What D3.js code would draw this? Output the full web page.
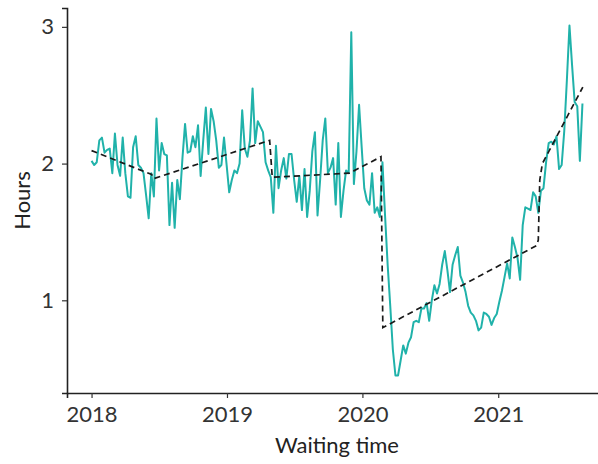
<!DOCTYPE html>
<html>
<head>
<meta charset="utf-8">
<script src="https://cdn.jsdelivr.net/npm/d3@7"></script>
<style>
  body { margin: 0; background: #fff; }
  text { font-family: Lato, sans-serif; }
</style>
</head>
<body>
<div class="viz"></div>
<script>
// weekly series, first week starts 2018-01-01
const startDate = '2018-01-01';
const hours = [
  2.02, 1.99, 2.01, 2.17, 2.19, 2.08, 2.10, 2.11, 1.93, 2.22,
  1.99, 1.91, 2.19, 1.93, 1.76, 1.75, 2.12, 2.20, 1.99, 1.97,
  1.93, 1.77, 1.60, 1.93, 1.76, 2.33, 1.95, 2.15, 2.07, 2.06,
  1.55, 1.86, 1.53, 1.88, 1.74, 2.04, 2.29, 2.08, 2.09, 2.20,
  2.12, 2.28, 1.91, 2.17, 2.41, 2.07, 2.40, 2.31, 2.17, 1.97,
  1.99, 2.19, 1.99, 1.79, 1.88, 1.95, 1.93, 2.00, 2.39, 2.11,
  2.05, 2.17, 2.55, 2.15, 2.31, 2.27, 2.23, 2.01, 1.95, 1.90,
  1.64, 2.13, 1.82, 1.95, 2.04, 1.89, 2.07, 2.07, 1.88, 1.72,
  1.91, 1.66, 1.96, 1.61, 1.80, 2.09, 2.23, 1.62, 1.88, 2.17,
  2.33, 1.93, 1.97, 2.04, 1.70, 2.15, 1.61, 1.80, 1.95, 1.93,
  2.96, 1.85, 2.09, 2.43, 2.12, 1.82, 1.73, 1.70, 1.93, 1.64,
  1.68, 1.61, 2.01, 1.62, 1.26, 0.96, 0.64, 0.45, 0.45, 0.56,
  0.67, 0.61, 0.69, 0.73, 0.84, 0.85, 0.84, 0.94, 0.94, 0.98,
  0.85, 1.00, 1.11, 1.05, 1.12, 1.26, 1.36, 1.22, 1.06, 1.26,
  1.33, 1.39, 1.18, 1.13, 1.06, 0.96, 0.91, 0.89, 0.85, 0.78,
  0.80, 0.91, 0.90, 0.88, 0.82, 0.87, 0.90, 0.99, 1.07, 1.17,
  1.27, 1.16, 1.46, 1.39, 1.31, 1.15, 1.55, 1.68, 1.67, 1.66,
  1.79, 1.76, 1.64, 1.80, 1.82, 2.01, 2.15, 2.16, 2.14, 2.20,
  1.96, 1.99, 2.24, 2.61, 3.01, 2.72, 2.45, 2.42, 2.02, 2.44
];

// segmented trend (dashed)
const fitDates = [
  '2018-01-01', '2018-06-12', '2018-06-18', '2019-04-26', '2019-05-03',
  '2019-11-27', '2020-02-20', '2020-02-25', '2021-04-14', '2021-04-19',
  '2021-04-23', '2021-04-30', '2021-08-17'
];
const fitHours = [
  2.095, 1.92, 1.89, 2.17, 1.90,
  1.93, 2.05, 0.80, 1.40, 1.44,
  1.88, 2.00, 2.56
];

const yTicks = [1, 2, 3];
const xTicks = [2018, 2019, 2020, 2021];

const parseDate = d3.timeParse('%Y-%m-%d');
const start = parseDate(startDate);

const data = hours.map((h, i) => ({ date: d3.timeDay.offset(start, i * 7), hours: h }));
const fit = fitDates.map((d, i) => ({ date: parseDate(d), hours: fitHours[i] }));

const margin = { top: 8, left: 67 },
  width = 540,
  height = 385;

const svg = d3
  .select('.viz')
  .append('svg')
  .attr('width', 598)
  .attr('height', 464)
  .style('display', 'block');

const g = svg
  .append('g')
  .attr('transform', 'translate(' + margin.left + ',' + margin.top + ')');

// ggplot style 5% expansion
const xExt = d3.extent(data, d => d.date);
const xPad = (xExt[1] - xExt[0]) * 0.05;
const x = d3
  .scaleTime()
  .domain([new Date(+xExt[0] - xPad), new Date(+xExt[1] + xPad)])
  .range([0, width]);

const yExt = d3.extent(data, d => d.hours);
const yPad = (yExt[1] - yExt[0]) * 0.05;
const y = d3
  .scaleLinear()
  .domain([yExt[0] - yPad, yExt[1] + yPad])
  .range([height, 0]);

const line = d3
  .line()
  .x(d => x(d.date))
  .y(d => y(d.hours));

g.append('path')
  .datum(data)
  .attr('fill', 'none')
  .attr('stroke', '#20b2aa')
  .attr('stroke-width', 2)
  .attr('stroke-linejoin', 'round')
  .attr('d', line);

g.append('path')
  .datum(fit)
  .attr('fill', 'none')
  .attr('stroke', '#1a1a1a')
  .attr('stroke-width', 1.7)
  .attr('stroke-dasharray', '6,4')
  .attr('d', line);

// axes
const xAxis = g
  .append('g')
  .attr('transform', 'translate(0,' + height + ')')
  .call(
    d3
      .axisBottom(x)
      .tickValues(xTicks.map(t => new Date(t, 0, 1)))
      .tickFormat(d3.timeFormat('%Y'))
      .tickSizeOuter(0)
      .tickSize(5)
      .tickPadding(8)
  );

const yAxis = g
  .append('g')
  .call(
    d3
      .axisLeft(y)
      .tickValues(yTicks)
      .tickFormat(d3.format('d'))
      .tickSizeOuter(0)
      .tickSize(5)
      .tickPadding(8)
  );

[xAxis, yAxis].forEach(a => {
  a.select('.domain').attr('stroke', '#222').attr('stroke-width', 1.6);
  a.selectAll('.tick line').attr('stroke', '#333').attr('stroke-width', 1.2);
  a.selectAll('.tick text')
    .attr('fill', '#333')
    .style('font-size', '22px')
    .style('font-family', 'Lato, sans-serif');
});

svg
  .append('text')
  .attr('x', margin.left + width / 2)
  .attr('y', 453)
  .attr('text-anchor', 'middle')
  .attr('fill', '#222')
  .style('font-size', '22px')
  .text('Waiting time');

svg
  .append('text')
  .attr('transform', 'translate(30,' + (margin.top + height / 2) + ') rotate(-90)')
  .attr('text-anchor', 'middle')
  .attr('fill', '#222')
  .style('font-size', '22px')
  .text('Hours');
</script>
</body>
</html>
